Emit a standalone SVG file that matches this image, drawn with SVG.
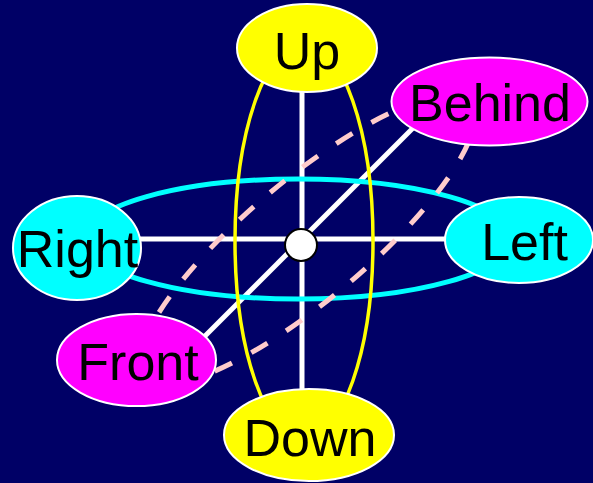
<svg xmlns="http://www.w3.org/2000/svg" width="593" height="483" viewBox="0 0 593 483">
<style>
.spoke{stroke:#FFFFFF;stroke-width:5;fill:none}
.node{stroke:#FFFFFF;stroke-width:2}
.lbl{font-family:"Liberation Sans",Arial,sans-serif;font-size:52px;fill:#000000;text-anchor:middle}
</style>
<rect width="593" height="483" fill="#000066"/>
<g id="connectors">
<line class="spoke" x1="302" y1="90" x2="302" y2="392"/>
<line class="spoke" x1="140" y1="239" x2="446" y2="239"/>
<line class="spoke" x1="200" y1="341" x2="420" y2="121"/>
<ellipse cx="298" cy="239" rx="214" ry="60" fill="none" stroke="#00FFFF" stroke-width="5"/>
<ellipse cx="307" cy="240" rx="213" ry="60" transform="rotate(-40 307 240)" fill="none" stroke="#FFCCCC" stroke-width="5" stroke-dasharray="19 22"/>
<ellipse cx="304" cy="241" rx="69" ry="198" fill="none" stroke="#FFFF00" stroke-width="3.5"/>
<circle cx="301" cy="245" r="16" fill="#FFFFFF" stroke="#000000" stroke-width="2"/>
</g>
<g id="up"><ellipse class="node" cx="307" cy="48" rx="70" ry="44" fill="#FFFF00"/><text class="lbl" x="307" y="69">Up</text></g>
<g id="behind"><ellipse class="node" cx="489.5" cy="101.5" rx="98" ry="44" fill="#FF00FF"/><text class="lbl" x="490" y="121">Behind</text></g>
<g id="right"><ellipse class="node" cx="77" cy="248" rx="64" ry="52" fill="#00FFFF"/><text class="lbl" x="77.5" y="267">Right</text></g>
<g id="left"><ellipse class="node" cx="519" cy="240" rx="74" ry="43" fill="#00FFFF"/><text class="lbl" x="524.5" y="260">Left</text></g>
<g id="front"><ellipse class="node" cx="136.5" cy="360" rx="79.5" ry="46" fill="#FF00FF"/><text class="lbl" x="138" y="380">Front</text></g>
<g id="down"><ellipse class="node" cx="309" cy="435" rx="85" ry="46" fill="#FFFF00"/><text class="lbl" x="310" y="456">Down</text></g>
</svg>
